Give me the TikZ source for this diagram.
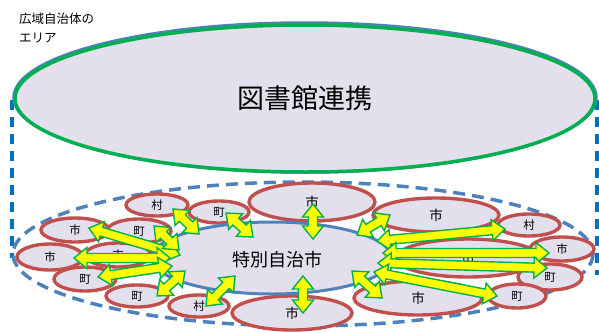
\documentclass[tikz,border=0pt]{standalone}
\usepackage{fontspec}
\newfontfamily\jp{Noto Sans CJK JP}
\usetikzlibrary{shapes.geometric,calc}
\definecolor{lav}{HTML}{E4DFEC}
\definecolor{redc}{HTML}{C0504D}
\definecolor{bluec}{HTML}{4F81BD}
\definecolor{blued}{HTML}{0070C0}
\definecolor{greenc}{HTML}{00B050}
\definecolor{yel}{HTML}{FFFF00}
\tikzset{
  town/.style={ellipse, draw=redc, line width=3.4pt, fill=lav, inner sep=0pt, font=\jp\fontsize{11.5}{12}\selectfont},
  bigtown/.style={town, font=\jp\fontsize{13.5}{14}\selectfont},
  arrowbody/.style={draw=greenc, fill=yel, line width=1.4pt, line join=miter},
  sidedash/.style={blued, line width=3.5pt, dash pattern=on 10pt off 7pt},
  areadash/.style={bluec, line width=3.5pt, dash pattern=on 12pt off 7pt}
}
\newcommand\dblarr[3]{%
 \coordinate (#1-h1) at ($(#2)!13pt!(#3)$);
 \coordinate (#1-h2) at ($(#3)!13pt!(#2)$);
 \draw[arrowbody] (#2) -- ($(#1-h1)!10.5pt!90:(#3)$) -- ($(#1-h1)!4.5pt!90:(#3)$)
   -- ($(#1-h2)!4.5pt!-90:(#2)$) -- ($(#1-h2)!10.5pt!-90:(#2)$) -- (#3)
   -- ($(#1-h2)!10.5pt!90:(#2)$) -- ($(#1-h2)!4.5pt!90:(#2)$)
   -- ($(#1-h1)!4.5pt!-90:(#3)$) -- ($(#1-h1)!10.5pt!-90:(#3)$) -- cycle;%
}
\begin{document}
\begin{tikzpicture}[x=1pt,y=-1pt]
\useasboundingbox (0,0) rectangle (599,332);
% cylinder sides
\draw[sidedash] (12,100) -- (12,258);
\draw[sidedash] (597,100) -- (597,275);
% top of cylinder
\draw[bluec, line width=2.5pt, fill=lav] (305,97.5) ellipse [x radius=291.5, y radius=75];
\node[ellipse, draw=greenc, line width=3.5pt, inner sep=0pt, minimum width=580pt, minimum height=147pt, font=\jp\fontsize{27}{30}\selectfont] (lib) at (305,98.5) {図書館連携};
\node[anchor=west, align=left, inner sep=0pt, font=\jp\fontsize{12.5}{19}\selectfont] (area) at (19,27.5) {広域自治体の\\エリア};
% dashed area
\draw[areadash] (303,254) ellipse [x radius=290, y radius=72];
% hidden towns
\node[town, minimum width=66pt, minimum height=24pt] (e5) at (118,255) {市};
\node[bigtown, minimum width=144pt, minimum height=38pt] (e18) at (468,258) {市};
% towns
\node[town, minimum width=62pt, minimum height=22pt] (e1) at (157,205) {村};
\node[town, minimum width=68pt, minimum height=24pt] (e2) at (75,230) {市};
\node[town, minimum width=64pt, minimum height=24pt] (e3) at (139,231) {町};
\node[town, minimum width=66pt, minimum height=26pt] (e4) at (50,257) {市};
\node[town, minimum width=62pt, minimum height=24pt] (e6) at (85,279) {町};
\node[town, minimum width=62pt, minimum height=22pt] (e7) at (137,296) {町};
\node[town, minimum width=60pt, minimum height=22pt] (e8) at (199,306) {村};
\node[town, minimum width=60pt, minimum height=22pt] (e9) at (219,212) {町};
\node[bigtown, minimum width=126pt, minimum height=38pt] (e10) at (312,202) {市};
\node[bigtown, minimum width=120pt, minimum height=34pt] (e11) at (292,313) {市};
\node[bigtown, minimum width=126pt, minimum height=34pt] (e12) at (436,215) {市};
\node[town, minimum width=62pt, minimum height=22pt] (e13) at (529,225) {村};
\node[town, minimum width=64pt, minimum height=24pt] (e14) at (562,249) {市};
\node[town, minimum width=64pt, minimum height=26pt] (e15) at (550,277) {町};
\node[town, minimum width=58pt, minimum height=24pt] (e16) at (517,296) {町};
\node[bigtown, minimum width=128pt, minimum height=34pt] (e17) at (418,298) {市};
% central city
\node[ellipse, draw=bluec, line width=3pt, fill=lav, inner sep=0pt, minimum width=240pt, minimum height=72pt] (c) at (272,258) {};
\node[inner sep=0pt, font=\jp\fontsize{18}{20}\selectfont] (clabel) at (277,260) {特別自治市};
% arrow end points
\coordinate (p1a) at (89,228);  \coordinate (p1b) at (180,255);
\coordinate (p2a) at (74,258);  \coordinate (p2b) at (170,258);
\coordinate (p3a) at (98,277);  \coordinate (p3b) at (172,266);
\coordinate (p4a) at (173,209); \coordinate (p4b) at (199,234);
\coordinate (p5a) at (154,226); \coordinate (p5b) at (179,250);
\coordinate (p6a) at (157,296); \coordinate (p6b) at (185,271);
\coordinate (p7a) at (206,306); \coordinate (p7b) at (235,276);
\coordinate (p8a) at (226,213); \coordinate (p8b) at (253,237);
\coordinate (p9a) at (313,204); \coordinate (p9b) at (313,239);
\coordinate (p10a) at (303,276); \coordinate (p10b) at (303,313);
\coordinate (q1a) at (357,235); \coordinate (q1b) at (390,215);
\coordinate (q2a) at (377,241); \coordinate (q2b) at (505,229);
\coordinate (q3a) at (383,253); \coordinate (q3b) at (549,253);
\coordinate (q4a) at (378,263); \coordinate (q4b) at (547,268);
\coordinate (q5a) at (374,272); \coordinate (q5b) at (497,296);
\coordinate (q6a) at (352,271); \coordinate (q6b) at (382,298);
% arrows
\dblarr{a1}{p1a}{p1b}
\dblarr{a2}{p2a}{p2b}
\dblarr{a3}{p3a}{p3b}
\dblarr{a4}{p4a}{p4b}
\dblarr{a5}{p5a}{p5b}
\dblarr{a6}{p6a}{p6b}
\dblarr{a7}{p7a}{p7b}
\dblarr{a8}{p8a}{p8b}
\dblarr{a9}{p9a}{p9b}
\dblarr{a10}{p10a}{p10b}
\dblarr{b2}{q2a}{q2b}
\dblarr{b3}{q3a}{q3b}
\dblarr{b4}{q4a}{q4b}
\dblarr{b5}{q5a}{q5b}
\dblarr{b1}{q1a}{q1b}
\dblarr{b6}{q6a}{q6b}
\end{tikzpicture}
\end{document}
